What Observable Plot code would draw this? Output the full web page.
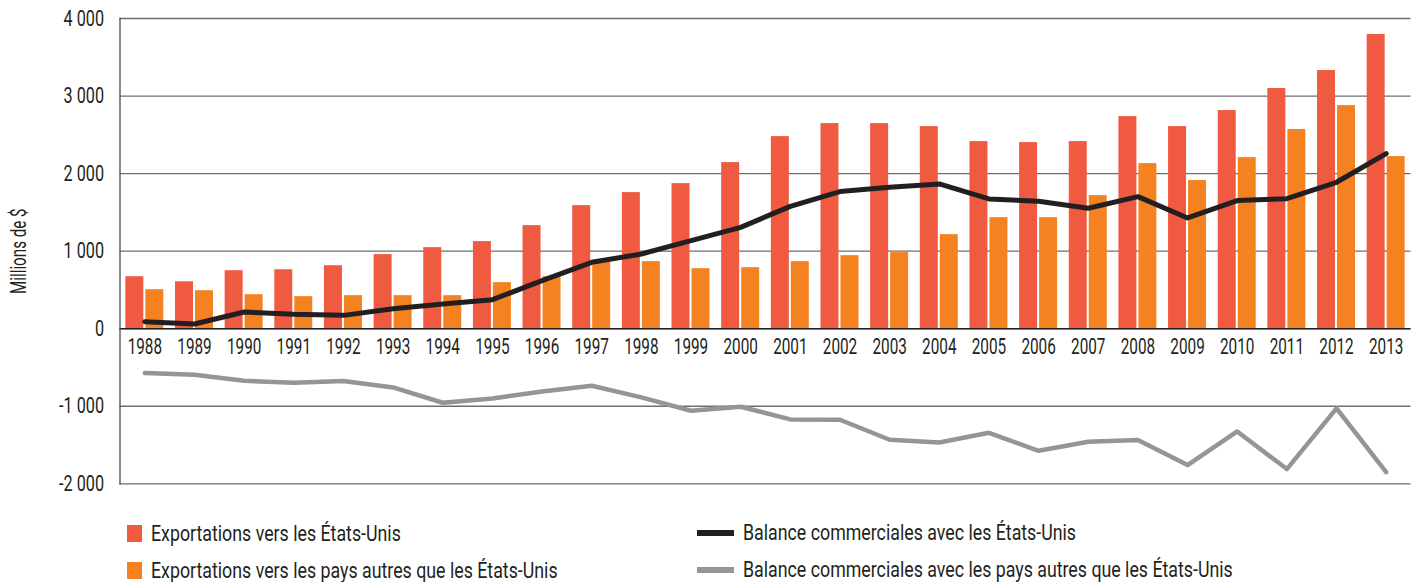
<!DOCTYPE html>
<html>
<head>
<meta charset="utf-8">
<script src="https://cdn.jsdelivr.net/npm/d3@7"></script>
<script src="https://cdn.jsdelivr.net/npm/@observablehq/plot@0.6"></script>
<style>
  body { margin: 0; background: #fff; font-family: Roboto, "Liberation Sans", sans-serif; color: #231f20; }
  #chart svg { display: block; }
  .legend { position: relative; height: 82px; font-size: 22.5px; }
  .item { position: absolute; display: flex; align-items: center; white-space: nowrap; height: 17px; line-height: 17px; }
  .sw { display: inline-block; width: 15px; height: 17px; margin-right: 9px; flex: none; }
  .ln { display: inline-block; width: 37px; height: 6px; margin-right: 9px; flex: none; }
  .lbl { display: inline-block; transform: scaleX(0.79); transform-origin: left center; }
</style>
</head>
<body>
<div id="chart"></div>
<div class="legend" id="legend"></div>
<script>
const years = [1988,1989,1990,1991,1992,1993,1994,1995,1996,1997,1998,1999,2000,2001,2002,2003,2004,2005,2006,2007,2008,2009,2010,2011,2012,2013];
const exportsUS = [670,605,748,760,812,955,1045,1123,1329,1587,1755,1871,2142,2477,2645,2645,2606,2413,2400,2413,2735,2606,2813,3097,3329,3794];
const exportsOther = [503,490,439,413,426,426,426,594,671,865,865,774,787,865,942,981,1213,1432,1432,1716,2129,1910,2206,2568,2877,2219];
const balanceUS = [90,60,215,185,172,258,318,374,620,856,963,1135,1307,1578,1768,1823,1867,1673,1643,1553,1703,1428,1652,1677,1888,2258];
const balanceOther = [-572,-594,-671,-697,-675,-757,-955,-899,-809,-735,-886,-1058,-1006,-1170,-1174,-1432,-1467,-1342,-1574,-1458,-1436,-1759,-1325,-1810,-1028,-1850];
const yTicks = [-2000,-1000,0,1000,2000,3000,4000];
const yLabel = "Millions de $";
const seriesNames = ["Exportations vers les États-Unis","Exportations vers les pays autres que les États-Unis","Balance commerciales avec les États-Unis","Balance commerciales avec les pays autres que les États-Unis"];
const colors = ["#ef5a41","#f58220","#231f20","#939598"];

const rows = years.map((y, i) => ({year: y, us: exportsUS[i], other: exportsOther[i], bus: balanceUS[i], bother: balanceOther[i]}));
const fmt = d => (d < 0 ? "-" : "") + d3.format(",")(Math.abs(d)).replace(/,/g, " ");
const font = 'Roboto, "Liberation Sans", sans-serif';

const chart = Plot.plot({
  width: 1413,
  height: 500,
  marginLeft: 119.5,
  marginRight: 2.5,
  marginTop: 18,
  marginBottom: 16.7,
  style: {fontFamily: font, color: "#231f20", background: "#fff"},
  x: {type: "band", domain: years, paddingInner: 0.235, paddingOuter: 0.1175, round: false, axis: null},
  y: {domain: [-2000, 4000], axis: null},
  marks: [
    Plot.ruleY(yTicks, {stroke: "#6d6e71", strokeWidth: 1.3}),
    Plot.barY(rows, {x: "year", y: "us", fill: colors[0], insetRight: 20}),
    Plot.barY(rows, {x: "year", y: "other", fill: colors[1], insetLeft: 20}),
    Plot.ruleY([0], {stroke: "#231f20", strokeWidth: 1.4}),
    Plot.frame({anchor: "left", stroke: "#4d4d4f", strokeWidth: 1.3}),
    Plot.line(rows, {x: "year", y: "bother", stroke: colors[3], strokeWidth: 4.5}),
    Plot.line(rows, {x: "year", y: "bus", stroke: colors[2], strokeWidth: 5}),
    Plot.axisY(yTicks, {tickSize: 0, tickPadding: 16, tickFormat: fmt, fontSize: 22.5, label: null, fill: "#231f20"}),
    Plot.text(years, {x: d => d, y: 0, dy: 18.5, text: d => String(d), fontSize: 22.5, fill: "#231f20"}),
    Plot.text([yLabel], {frameAnchor: "left", textAnchor: "middle", rotate: -90, dx: -101, fontSize: 22, fill: "#231f20"})
  ]
});
document.getElementById("chart").append(chart);

// condense the text horizontally to mimic the narrow face of the original
chart.querySelectorAll("text").forEach(t => {
  const tr = t.getAttribute("transform") || "";
  if (t.textContent === yLabel) {
    t.setAttribute("transform", tr + " scale(0.69,1)");
    return;
  }
  const sx = /\d 000$|^0$/.test(t.textContent) ? 0.72 : 0.68;
  const len = t.getComputedTextLength();
  if (len > 0) {
    t.setAttribute("textLength", (len * sx).toFixed(2));
    t.setAttribute("lengthAdjust", "spacingAndGlyphs");
  }
});

const legend = document.getElementById("legend");
const items = [
  {name: seriesNames[0], color: colors[0], kind: "sw", left: 127, top: 25},
  {name: seriesNames[1], color: colors[1], kind: "sw", left: 127, top: 62},
  {name: seriesNames[2], color: colors[2], kind: "ln", left: 697, top: 24},
  {name: seriesNames[3], color: colors[3], kind: "ln", left: 697, top: 61}
];
for (const it of items) {
  const div = document.createElement("div");
  div.className = "item";
  div.style.left = it.left + "px";
  div.style.top = it.top + "px";
  const s = document.createElement("span");
  s.className = it.kind;
  s.style.background = it.color;
  const l = document.createElement("span");
  l.className = "lbl";
  l.textContent = it.name;
  div.append(s, l);
  legend.append(div);
}
</script>
</body>
</html>
